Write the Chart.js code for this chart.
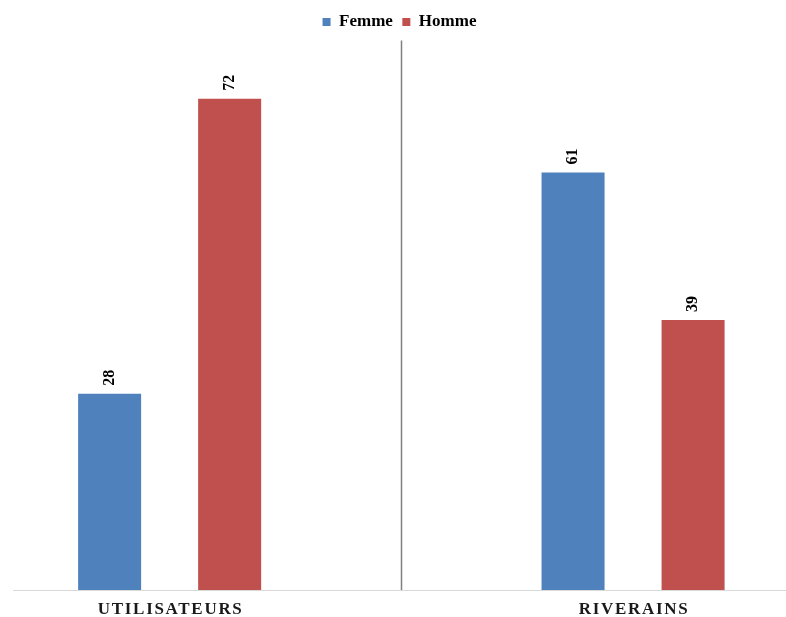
<!DOCTYPE html>
<html lang="fr">
<head>
    <meta charset="UTF-8">
    <title>Femme / Homme</title>
    <script src="https://cdn.jsdelivr.net/npm/chart.js"></script>
    <style>
        html, body { margin: 0; padding: 0; background: #ffffff; }
        #wrap { width: 786px; height: 617px; }
    </style>
</head>
<body>
    <div id="wrap"><canvas id="chart"></canvas></div>

    <script>
        // Values (percent)
        const categories = ['UTILISATEURS', 'RIVERAINS'];
        const femme = [28, 61];
        const homme = [72, 39];
        const seriesNames = ['Femme', 'Homme'];

        const serif = "'Times New Roman', 'Liberation Serif', serif";
        const blue = '#4F81BD';
        const red = '#C0504D';
        const yMin = -1.3;

        const toPoints = vals => vals.map((v, i) => ({ x: i, y: v }));

        // divider, rotated value labels and spaced category labels
        const extras = {
            id: 'extras',
            afterDatasetsDraw(chart) {
                const ctx = chart.ctx;
                const area = chart.chartArea;
                const xs = chart.scales.x;

                // vertical separator between the two groups
                const mid = Math.round(xs.getPixelForValue(0.5)) + 0.5;
                ctx.save();
                ctx.strokeStyle = '#808080';
                ctx.lineWidth = 1.5;
                ctx.beginPath();
                ctx.moveTo(mid, area.top);
                ctx.lineTo(mid, area.bottom);
                ctx.stroke();
                ctx.restore();

                // value labels, rotated
                chart.data.datasets.forEach((ds, di) => {
                    const meta = chart.getDatasetMeta(di);
                    meta.data.forEach((bar, i) => {
                        ctx.save();
                        ctx.translate(bar.x, bar.y - 8);
                        ctx.rotate(-Math.PI / 2);
                        ctx.font = 'bold 16px ' + serif;
                        ctx.fillStyle = '#000000';
                        ctx.textAlign = 'left';
                        ctx.textBaseline = 'middle';
                        ctx.fillText(String(ds.data[i].y), 0, 0);
                        ctx.restore();
                    });
                });

                // category labels with letter spacing
                ctx.save();
                ctx.font = 'bold 17px ' + serif;
                ctx.letterSpacing = '1.7px';
                ctx.fillStyle = '#1a1a1a';
                ctx.textAlign = 'center';
                ctx.textBaseline = 'middle';
                categories.forEach((c, i) => {
                    ctx.fillText(c, xs.getPixelForValue(i) + 1, area.bottom + 20);
                });
                ctx.restore();
            }
        };

        new Chart(document.getElementById('chart'), {
            type: 'bar',
            data: {
                datasets: [
                    { label: seriesNames[0], data: toPoints(femme), backgroundColor: blue, base: yMin },
                    { label: seriesNames[1], data: toPoints(homme), backgroundColor: red, base: yMin }
                ]
            },
            options: {
                responsive: true,
                maintainAspectRatio: false,
                animation: false,
                categoryPercentage: 0.518,
                barPercentage: 0.525,
                layout: { padding: { left: 13, right: 0, top: 4, bottom: 19 } },
                plugins: {
                    legend: {
                        position: 'top',
                        labels: {
                            boxWidth: 8,
                            boxHeight: 8,
                            padding: 9.5,
                            color: '#000000',
                            font: { family: serif, size: 17, weight: 'bold' }
                        }
                    },
                    tooltip: { enabled: false }
                },
                scales: {
                    x: {
                        type: 'linear',
                        offset: false,
                        min: -0.338,
                        max: 1.33,
                        afterBuildTicks: s => { s.ticks = categories.map((c, i) => ({ value: i })); },
                        ticks: { display: false },
                        grid: { display: false, offset: false },
                        border: { display: true, color: '#d9d9d9', width: 1 }
                    },
                    y: {
                        display: false,
                        min: yMin,
                        max: 80.7
                    }
                }
            },
            plugins: [extras]
        });
    </script>
</body>
</html>
